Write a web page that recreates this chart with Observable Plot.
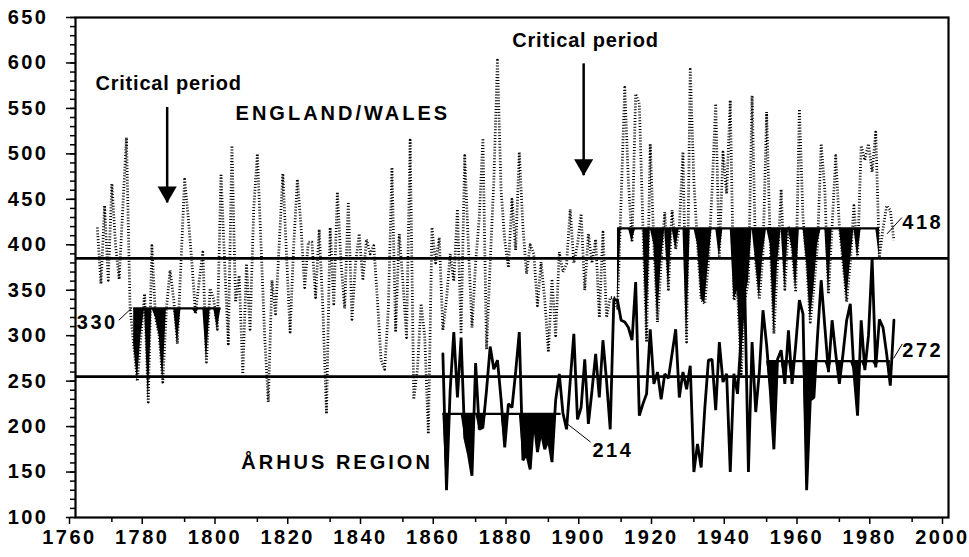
<!DOCTYPE html>
<html><head><meta charset="utf-8">
<script src="https://cdn.jsdelivr.net/npm/d3@7"></script>
<script src="https://cdn.jsdelivr.net/npm/@observablehq/plot@0.6"></script>
<style>body{margin:0;background:#fff}</style>
</head><body><div id="chart"></div>
<script>
// ---- data ----
const englandStart = 1766;
const englandValues = [
 419,357,443,361,467,400,362,440,518,331,
 290,250,300,346,227,399,320,300,249,330,
 372,340,291,380,472,430,380,324,360,392,
 271,352,340,307,478,380,291,509,337,366,
 258,379,307,440,500,400,300,227,361,324,
 400,478,390,304,400,472,420,353,403,403,
 342,417,330,214,419,335,458,380,330,447,
 318,380,412,361,406,390,399,340,273,263,
 330,485,304,412,360,298,515,230,263,335,
 300,192,419,380,408,306,340,390,360,439,
 302,498,400,309,380,430,517,285,380,470,
 603,460,405,375,450,394,502,420,368,400,
 390,333,381,340,282,362,300,392,370,379,
 439,380,400,434,350,412,380,406,320,414,
 320,342,342,330,450,573,470,403,566,555,
 420,293,511,400,315,380,436,351,438,395,
 420,502,293,593,470,400,340,335,380,460,
 555,386,502,456,559,339,350,258,340,360,
 564,380,340,390,546,400,302,380,461,351,
 420,395,348,549,430,380,315,353,400,511,
 460,346,420,498,420,380,337,380,443,386,
 509,493,511,480,524,386,418,443,438,405];
const aarhusStart = 1861;
const aarhusValues = [
 280,130,240,304,232,298,188,170,146,270,
 197,199,240,288,263,273,230,177,225,221,
 260,304,163,170,153,210,172,195,175,186,
 161,229,258,215,197,250,302,208,221,274,
 203,240,280,232,295,250,197,340,339,317,
 315,309,295,359,212,225,236,307,247,260,
 230,258,253,280,307,232,260,241,267,150,
 181,155,220,273,274,218,293,249,258,150,
 258,236,300,350,150,293,216,260,328,290,
 240,175,274,284,247,306,247,290,339,324,
 130,229,232,300,361,310,260,317,280,247,
 280,317,335,260,212,317,262,300,385,265,
 318,309,280,245,317];
const meanLevels = [385, 255];
const periodSeries = ["england", "england", "aarhus", "aarhus"];
const periodFrom = [1776, 1909, 1861, 1950.5];
const periodTo = [1800, 1981, 1893.5, 1984];
const periodLevel = [330, 418, 214, 272];
const xTicks = [1760,1780,1800,1820,1840,1860,1880,1900,1920,1940,1960,1980,2000];
const xMinor = [1770,1790,1810,1830,1850,1870,1890,1910,1930,1950,1970,1990];
const yTicks = [100,150,200,250,300,350,400,450,500,550,600,650];
const yMinor = d3.range(100, 651, 10);

// ---- annotations ----
const noteText = ["Critical period", "Critical period", "ENGLAND/WALES", "ÅRHUS REGION"];
const noteX = [1785.6, 1900.2, 1833.5, 1831.9];
const noteY = [577, 625, 544, 160];
const arrowX = [1785.2, 1899.7];
const arrowTop = [551, 599];
const arrowTip = [446, 476];
const labelX = [1771.6, 1987.3, 1902.1, 1987.3];
const labelY = [314.5, 424.5, 173.7, 283.7];
const labelAnchor = ["end", "start", "start", "start"];
const leaderX1 = [1771.9, 1983.1, 1895.2, 1984.9];
const leaderY1 = [317, 412, 203, 275];
const leaderX2 = [1775.6, 1987.2, 1901.6, 1987.3];
const leaderY2 = [331, 430, 183, 291];

// ---- build tables ----
const england = englandValues.map((v, i) => ({year: englandStart + i, value: v}));
const aarhus = aarhusValues.map((v, i) => ({year: aarhusStart + i, value: v}));
const seriesByName = {england, aarhus};
const periods = periodLevel.map((lv, i) => ({series: periodSeries[i], from: periodFrom[i], to: periodTo[i], level: lv, label: String(lv)}));
const notes = noteText.map((t, i) => ({text: t, x: noteX[i], y: noteY[i]}));
const arrows = arrowX.map((x, i) => ({x, top: arrowTop[i], tip: arrowTip[i]}));
const labels = periods.map((p, i) => ({text: p.label, x: labelX[i], y: labelY[i], anchor: labelAnchor[i]}));
const leaders = periods.map((p, i) => ({x1: leaderX1[i], y1: leaderY1[i], x2: leaderX2[i], y2: leaderY2[i]}));

const fillMarks = periods.map(p => {
  const s = seriesByName[p.series].filter(d => d.year >= Math.floor(p.from) && d.year <= Math.ceil(p.to));
  return Plot.areaY(s, {x: "year", y1: p.level, y2: d => Math.min(d.value, p.level), fill: "black", curve: "linear"});
});

const chart = Plot.plot({
  width: 969, height: 557,
  marginLeft: 75, marginRight: 21, marginTop: 17, marginBottom: 40,
  x: {domain: [1760, 2000]},
  y: {domain: [100, 650]},
  style: {fontFamily: "'Liberation Sans', Arial, sans-serif", fontSize: "20px", fontWeight: "bold", background: "white", color: "black", overflow: "visible"},
  marks: [
    ...fillMarks,
    Plot.ruleY(meanLevels, {strokeWidth: 2.6}),
    Plot.ruleY(periods, {y: "level", x1: "from", x2: "to", strokeWidth: 2.2}),
    Plot.line(england, {x: "year", y: "value", stroke: "black", strokeWidth: 2.8, strokeDasharray: "1,1.9", strokeLinecap: "butt", curve: "linear"}),
    Plot.line(aarhus, {x: "year", y: "value", stroke: "black", strokeWidth: 2.8, curve: "linear", strokeLinejoin: "miter"}),
    Plot.ruleX(arrows, {x: "x", y1: "top", y2: "tip", strokeWidth: 2.5}),
    Plot.dot(arrows, {x: "x", y: "tip", symbol: "triangle", rotate: 180, r: 7.1, fill: "black", stroke: null, dy: -11}),
    Plot.link(leaders, {x1: "x1", y1: "y1", x2: "x2", y2: "y2", strokeWidth: 1}),
    Plot.text(labels.filter(d => d.anchor === "end"), {x: "x", y: "y", text: "text", textAnchor: "end"}),
    Plot.text(labels.filter(d => d.anchor === "start"), {x: "x", y: "y", text: "text", textAnchor: "start"}),
    Plot.text(notes, {x: "x", y: "y", text: "text"}),
    Plot.axisY({ticks: yMinor, tickSize: 5, text: null, strokeWidth: 1.5}),
    Plot.axisY({ticks: yTicks, tickSize: 9, tickPadding: 18, strokeWidth: 1.5, label: null}),
    Plot.axisX({ticks: xMinor, tickSize: 5, text: null, strokeWidth: 1.5}),
    Plot.axisX({ticks: xTicks, tickSize: 7, tickPadding: 5, tickFormat: d => String(d), strokeWidth: 1.5, label: null, dx: -6}),
    Plot.frame({strokeWidth: 2.2})
  ]
});
document.getElementById("chart").appendChild(chart);
d3.select(chart).selectAll("text").each(function() {
  const t = this.textContent;
  if (/^[0-9]+$/.test(t)) this.style.letterSpacing = "2.5px";
  else if (/^[A-ZÅ\/ ]+$/.test(t)) this.style.letterSpacing = "3px";
  else this.style.letterSpacing = "0.8px";
});
</script>
</body></html>
